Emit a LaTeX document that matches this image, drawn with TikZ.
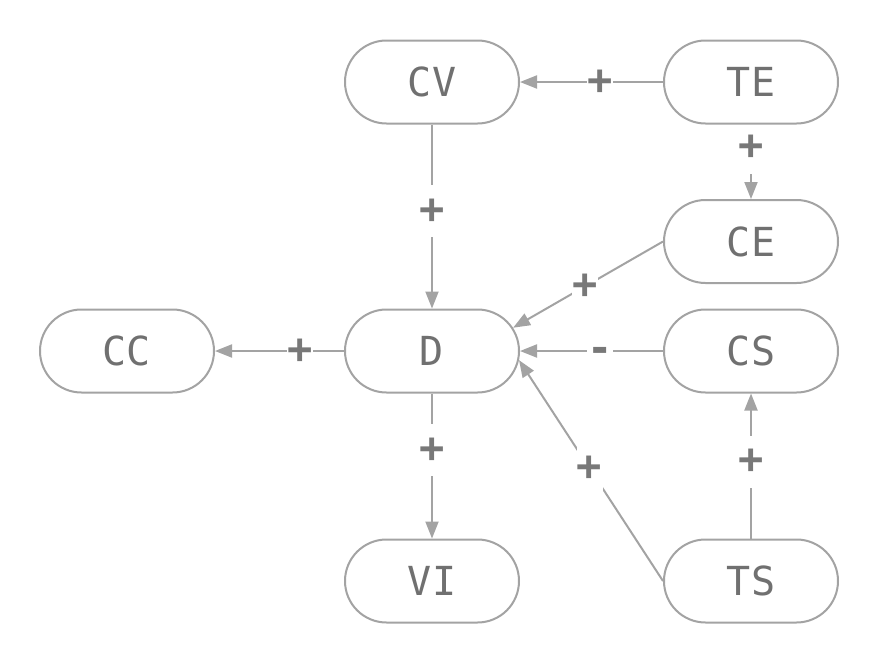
\documentclass[tikz,border=0pt]{standalone}
\usepackage{fontspec}
\setmonofont{DejaVu Sans Mono}
\usetikzlibrary{arrows.meta,shapes.misc,backgrounds}
\definecolor{edgec}{HTML}{A3A3A3}
\definecolor{txtc}{HTML}{707070}
\definecolor{lblc}{HTML}{787878}
\begin{document}
\begin{tikzpicture}[x=1pt,y=-1pt,
  box/.style={rounded rectangle, draw=edgec, line width=2pt, minimum width=174pt, minimum height=83pt, inner sep=0pt, font=\ttfamily\fontsize{40}{42}\selectfont, text=txtc, fill=white},
  link/.style={draw=edgec, line width=2pt, -{Triangle[length=17pt,width=13pt]}},
  lbl/.style={fill=white, inner sep=0pt, minimum width=26pt, minimum height=52pt, font=\ttfamily\bfseries\fontsize{42}{44}\selectfont, text=lblc},
  lblminus/.style={lbl, text depth=0pt, yshift=-4pt}]
\useasboundingbox (0,0) rectangle (879,665);
\node[box] (CV) at (432,82) {CV};
\node[box] (TE) at (751,82) {TE};
\node[box] (CE) at (751,241.5) {CE};
\node[box] (CC) at (127,351) {CC};
\node[box] (D) at (432,351) {D};
\node[box] (CS) at (751,351) {CS};
\node[box] (VI) at (432,581) {VI};
\node[box] (TS) at (751,581) {TS};
\begin{pgfonlayer}{background}
\draw[link] (TE.west) -- node[lbl,pos=0.44]{+} (CV.east);
\draw[link] (TE.south) -- node[lbl,pos=0.31]{+} (CE.north);
\draw[link] (CV.south) -- node[lbl,pos=0.47]{+} (D.north);
\draw[link] (CE.west) -- node[lbl,pos=0.52]{+} (D.16);
\draw[link] (CS.west) -- node[lbl,pos=0.44]{} node[lblminus,pos=0.44,fill=none]{-} (D.east);
\draw[link] (TS.west) -- node[lbl,pos=0.51]{+} (D.-6);
\draw[link] (D.west) -- node[lbl,pos=0.34]{+} (CC.east);
\draw[link] (D.south) -- node[lbl,pos=0.39]{+} (VI.north);
\draw[link] (TS.north) -- node[lbl,pos=0.53]{+} (CS.south);
\end{pgfonlayer}
\end{tikzpicture}
\end{document}
